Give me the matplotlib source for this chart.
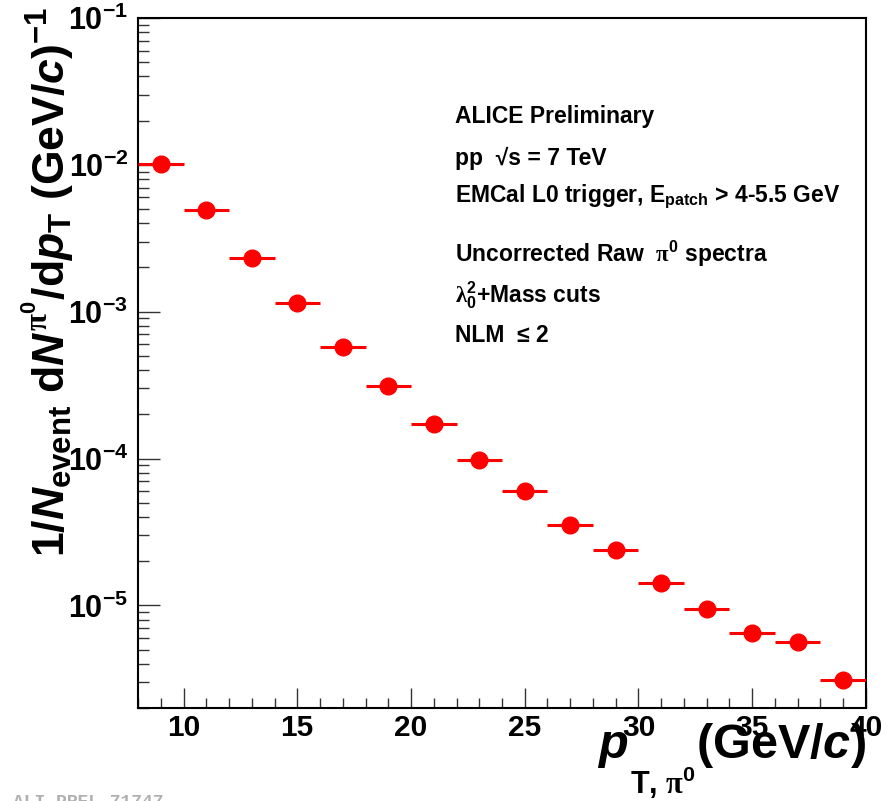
import math
import matplotlib
matplotlib.use("Agg")
import matplotlib.pyplot as plt
from matplotlib.ticker import FixedLocator, FuncFormatter, LogLocator, NullFormatter, MultipleLocator

plt.rcParams['font.family'] = ['Liberation Sans', 'DejaVu Sans']
plt.rcParams['font.weight'] = 'bold'
plt.rcParams['mathtext.fontset'] = 'custom'
plt.rcParams['mathtext.rm'] = 'Liberation Sans:bold'
plt.rcParams['mathtext.bf'] = 'Liberation Sans:bold'
plt.rcParams['mathtext.sf'] = 'Liberation Sans:bold'
plt.rcParams['mathtext.it'] = 'Liberation Sans:bold:italic'
plt.rcParams['mathtext.cal'] = 'Liberation Serif'
plt.rcParams['mathtext.default'] = 'rm'

# data
pt = [9, 11, 13, 15, 17, 19, 21, 23, 25, 27, 29, 31, 33, 35, 37, 39]
pt_err = [1] * 16
yield_vals = [1.02e-2, 4.95e-3, 2.32e-3, 1.14e-3, 5.78e-4, 3.14e-4, 1.73e-4, 9.8e-5,
              6.05e-5, 3.5e-5, 2.37e-5, 1.41e-5, 9.5e-6, 6.45e-6, 5.6e-6, 3.1e-6]
x_ticks = [10, 15, 20, 25, 30, 35, 40]
y_ticks = [1e-5, 1e-4, 1e-3, 1e-2, 1e-1]
info_lines = [
    "ALICE Preliminary",
    "pp  \u221as = 7 TeV",
    r"EMCal L0 trigger, E$_{\mathrm{patch}}$ > 4-5.5 GeV",
    r"Uncorrected Raw  $\mathcal{\pi}^{0}$ spectra",
    r"$\mathcal{\lambda}_{0}^{2}$+Mass cuts",
    "NLM  \u2264 2",
]
info_y_px = [116, 158, 197, 254, 295, 336]

W, H = 895, 801
fig = plt.figure(figsize=(W / 100, H / 100), dpi=100)
ax = fig.add_axes([138 / W, 1 - 708 / H, (866 - 138) / W, (708 - 18) / H])

ax.errorbar(pt, yield_vals, xerr=pt_err, fmt='o', color='#ff0000', ms=12,
            elinewidth=2.2, capsize=0, zorder=3, clip_on=True)

ax.set_yscale('log')
ax.set_xlim(8, 40)
ax.set_ylim(2e-6, 1e-1)

ax.xaxis.set_major_locator(FixedLocator(x_ticks))
ax.xaxis.set_minor_locator(MultipleLocator(1))
ax.yaxis.set_major_locator(FixedLocator(y_ticks))
ax.yaxis.set_minor_locator(LogLocator(base=10, subs=range(2, 10), numticks=20))
ax.yaxis.set_minor_formatter(NullFormatter())


def yfmt(v, pos):
    e = int(round(math.log10(v)))
    return r"10$^{%d}$" % e


ax.yaxis.set_major_formatter(FuncFormatter(yfmt))
ax.xaxis.set_major_formatter(FuncFormatter(lambda v, p: "%d" % v))

ax.tick_params(axis='both', which='both', direction='in', top=False, right=False,
               width=1.0, color='#333333')
ax.tick_params(axis='x', which='major', length=14.5, pad=4, labelsize=21.5)
ax.tick_params(axis='x', which='minor', length=7.2)
ax.tick_params(axis='y', which='major', length=16, pad=7, labelsize=22)
ax.tick_params(axis='y', which='minor', length=8)
for lab in ax.get_xticklabels() + ax.get_yticklabels():
    lab.set_fontweight('bold')
for s in ax.spines.values():
    s.set_linewidth(1.5)

for txt, ypx in zip(info_lines, info_y_px):
    fig.text(455 / W, 1 - ypx / H, txt, fontsize=16.5, fontweight='bold',
             ha='left', va='center')

# y-axis title (rotated), anchored at the baseline start
ylab = (r"1/$\mathit{N}_{\mathrm{event}}$ d$\mathit{N}^{\mathcal{\pi}^{0}}$/d$\mathit{p}_{\mathrm{T}}$"
        r" (GeV/$\mathit{c}$)$^{-1}$")
fig.text(65 / W, 1 - 557 / H, ylab, rotation=90, rotation_mode='anchor',
         fontsize=32, fontweight='bold', ha='left', va='baseline')

# x-axis title in pieces (deep subscript as in the reference)
fig.text(597 / W, 1 - 758 / H, r"$\mathit{p}$", fontsize=35, ha='left', va='baseline')
fig.text(630 / W, 1 - 794 / H, r"T, $\mathcal{\pi}^{0}$", fontsize=22, fontweight='bold',
         ha='left', va='baseline')
fig.text(866 / W, 1 - 758 / H, r"(GeV/$\mathit{c}$)", fontsize=35, fontweight='bold',
         ha='right', va='baseline')

fig.text(13 / W, -0.012, "ALI-PREL-71747", fontsize=13, color='#b0b0b0',
         family='Liberation Mono', ha='left', va='bottom')

fig.savefig("out.png", dpi=100)
